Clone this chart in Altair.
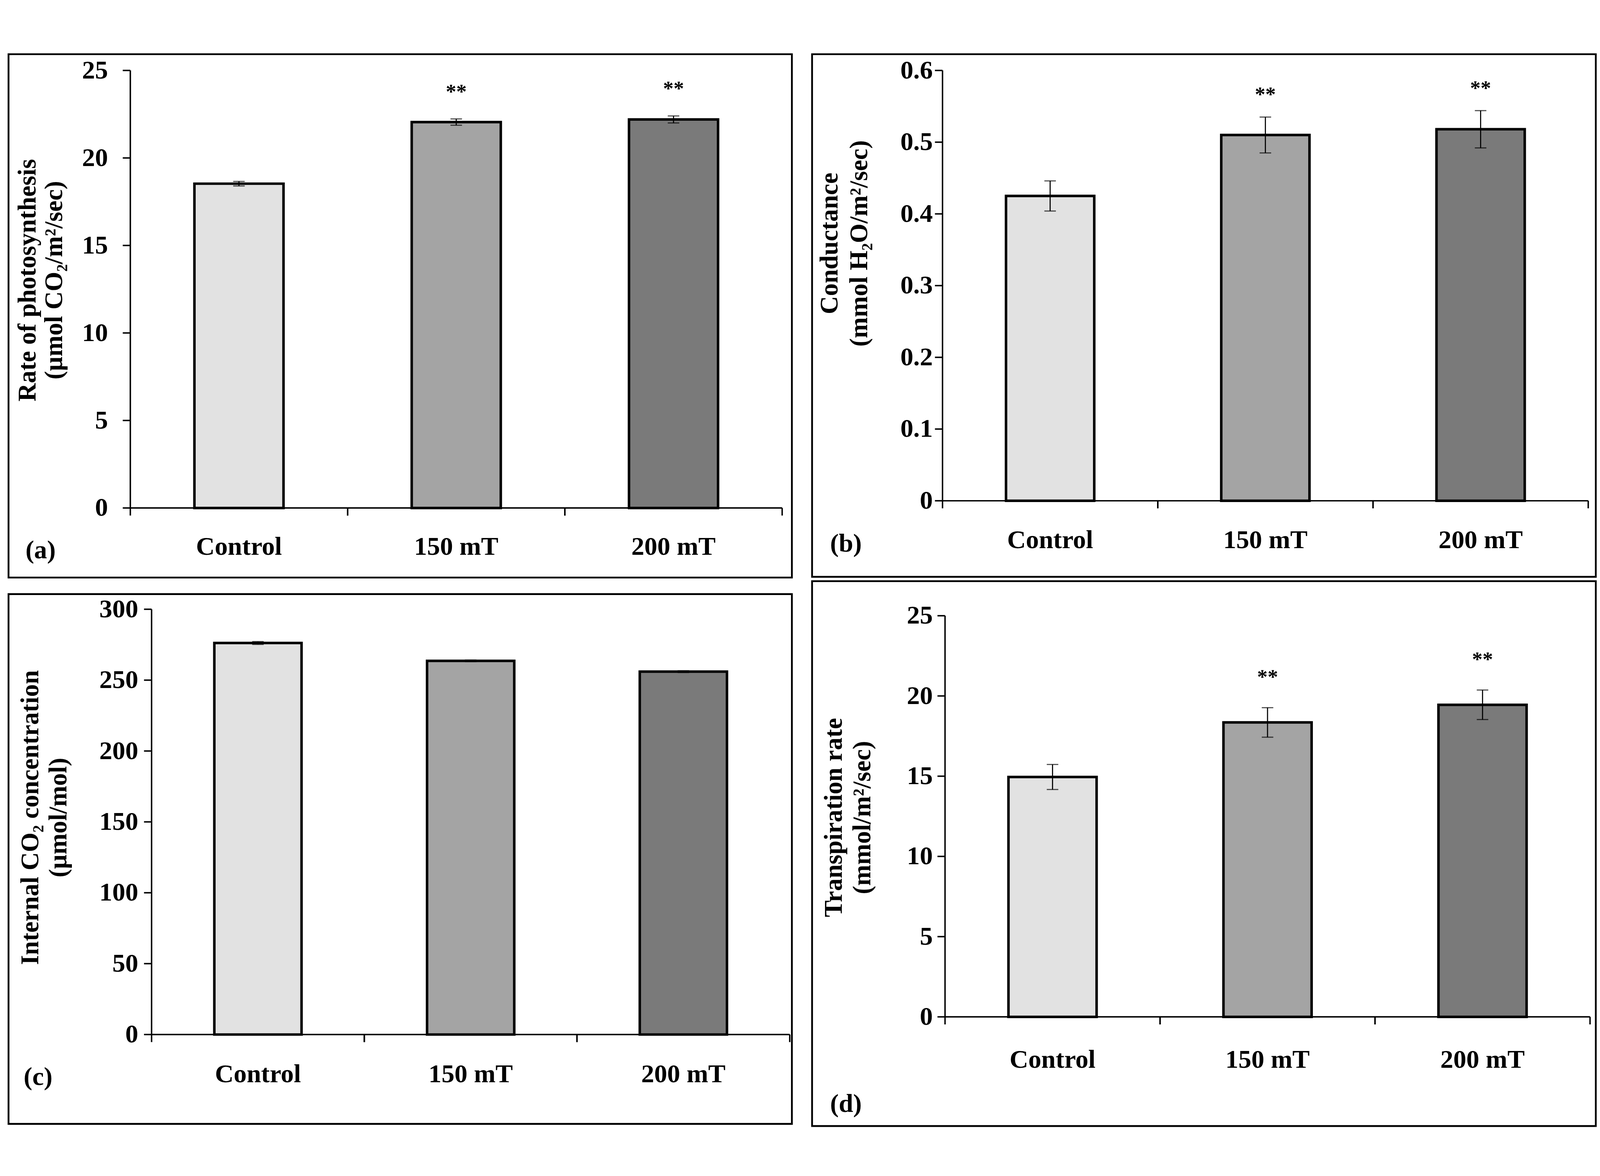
import altair as alt
import pandas as pd

categories = ["Control", "150 mT", "200 mT"]
bar_fills = ["#e2e2e2", "#a4a4a4", "#7a7a7a"]

photo_mean = [18.53, 22.05, 22.2]
photo_err = [0.13, 0.18, 0.2]
photo_sig = ["", "**", "**"]
photo_ticks = [0, 5, 10, 15, 20, 25]
photo_labels = ["0", "5", "10", "15", "20", "25"]

cond_mean = [0.425, 0.510, 0.518]
cond_err = [0.021, 0.025, 0.026]
cond_sig = ["", "**", "**"]
cond_ticks = [0, 0.1, 0.2, 0.3, 0.4, 0.5, 0.6]
cond_labels = ["0", "0.1", "0.2", "0.3", "0.4", "0.5", "0.6"]

ci_mean = [276.2, 263.6, 256.0]
ci_err = [1.0, 0.6, 0.6]
ci_sig = ["", "", ""]
ci_ticks = [0, 50, 100, 150, 200, 250, 300]
ci_labels = ["0", "50", "100", "150", "200", "250", "300"]

trans_mean = [14.95, 18.35, 19.45]
trans_err = [0.78, 0.92, 0.92]
trans_sig = ["", "**", "**"]
trans_ticks = [0, 5, 10, 15, 20, 25]
trans_labels = ["0", "5", "10", "15", "20", "25"]

FONT = "Liberation Serif"


def panel(mean, err, sig, ticks, tick_labels, title, letter, g):
    df = pd.DataFrame({
        "cat": categories,
        "v": mean,
        "lo": [m - e for m, e in zip(mean, err)],
        "hi": [m + e for m, e in zip(mean, err)],
        "sig": sig,
        "fill": bar_fills,
    })
    tdf = pd.DataFrame({"tv": ticks, "tl": tick_labels})
    one = alt.Chart(pd.DataFrame({"t": [letter], "dmin": [ticks[0]],
                                  "dmax": [ticks[-1]]}))
    xs = alt.Scale(domain=categories, range=[g["x0"], g["x1"]],
                   paddingInner=0, paddingOuter=0)
    ys = alt.Scale(domain=[ticks[0], ticks[-1]], range=[g["y0"], g["yt"]],
                   nice=False, zero=True)

    def X(bp=None):
        if bp is None:
            return alt.X("cat:N", sort=categories, scale=xs, axis=None)
        return alt.X("cat:N", sort=categories, scale=xs, axis=None,
                     bandPosition=bp)

    def Y(f):
        return alt.Y(f + ":Q", scale=ys, axis=None)

    base = alt.Chart(df)
    tk = alt.Chart(tdf)
    txt = dict(font=FONT, fontWeight="bold", color="black")

    # axes drawn from the scales
    yline = one.mark_rule(color="black", strokeWidth=4).encode(
        x=alt.value(g["x0"]), y=Y("dmin"), y2="dmax:Q")
    xline = one.mark_rule(color="black", strokeWidth=4).encode(
        y=Y("dmin"), x=alt.value(g["x0"]), x2=alt.value(g["x1"]))
    yticks = tk.mark_rule(color="black", strokeWidth=4).encode(
        y=Y("tv"), x=alt.value(g["x0"] - 21), x2=alt.value(g["x0"]))
    ylabels = tk.mark_text(align="right", baseline="middle", fontSize=72,
                           **txt).encode(
        y=Y("tv"), x=alt.value(g["x0"] - 21 - g["lpy"]), text="tl:N")
    xticks0 = base.mark_rule(color="black", strokeWidth=4).encode(
        x=X(0), y=alt.value(g["y0"]), y2=alt.value(g["y0"] + 21))
    xticks1 = base.mark_rule(color="black", strokeWidth=4).encode(
        x=X(1), y=alt.value(g["y0"]), y2=alt.value(g["y0"] + 21))
    xlabels = base.mark_text(align="center", baseline="middle", fontSize=72,
                             **txt).encode(
        x=X(), y=alt.value(g["xly"]), text="cat:N")

    bars = base.mark_bar(width=alt.RelativeBandSize(0.41), stroke="black",
                         strokeWidth=7).encode(
        x=X(), y=Y("v"), fill=alt.Fill("fill:N", scale=None))
    rule = base.mark_rule(color="black", strokeWidth=3).encode(
        x=X(), y=Y("lo"), y2="hi:Q")
    cap_lo = base.mark_tick(color="black", thickness=3, size=32).encode(
        x=X(), y=Y("lo"))
    cap_hi = base.mark_tick(color="black", thickness=3, size=32).encode(
        x=X(), y=Y("hi"))
    stars = base.mark_text(fontSize=58, baseline="alphabetic",
                           dy=g["sdy"], **txt).encode(
        x=X(), y=Y("hi"), text="sig:N")
    lab = one.mark_text(fontSize=72, align="left", baseline="middle",
                        **txt).encode(
        x=alt.value(g["lx"]), y=alt.value(g["ly"]), text="t:N")
    ttl = one.mark_text(fontSize=70, align="center", baseline="middle",
                        angle=270, lineHeight=g["tlh"], **txt).encode(
        x=alt.value(g["tx"]), y=alt.value(g["ty"]), text=alt.value(title))
    return alt.layer(yline, xline, yticks, ylabels, xticks0, xticks1,
                     xlabels, bars, rule, cap_lo, cap_hi, stars, lab,
                     ttl).properties(width=g["W"], height=g["H"])


ga = dict(W=2174, H=1452, x0=338, x1=2147, y0=1259, yt=45, lpy=41,
          xly=1367, tx=54, ty=627, tlh=74, sdy=-57, lx=47, ly=1377)
gb = dict(W=2175, H=1450, x0=362, x1=2154, y0=1239, yt=45, lpy=6,
          xly=1348, tx=50, ty=525, tlh=82, sdy=-44, lx=50, ly=1358)
gc = dict(W=2174, H=1470, x0=397, x1=2168, y0=1222, yt=42, lpy=16,
          xly=1332, tx=62, ty=620, tlh=78, sdy=-30, lx=42, ly=1340)
gd = dict(W=2175, H=1512, x0=369, x1=2159, y0=1209, yt=96, lpy=13,
          xly=1328, tx=61, ty=656, tlh=80, sdy=-66, lx=50, ly=1451)

pa = panel(photo_mean, photo_err, photo_sig, photo_ticks, photo_labels,
           ["Rate of photosynthesis", "(\u00b5mol CO\u2082/m\u00b2/sec)"], "(a)", ga)
pb = panel(cond_mean, cond_err, cond_sig, cond_ticks, cond_labels,
           ["Conductance", "(mmol H\u2082O/m\u00b2/sec)"], "(b)", gb)
pc = panel(ci_mean, ci_err, ci_sig, ci_ticks, ci_labels,
           ["Internal CO\u2082 concentration", "(\u00b5mol/mol)"], "(c)", gc)
pd_ = panel(trans_mean, trans_err, trans_sig, trans_ticks, trans_labels,
            ["Transpiration rate", "(mmol/m\u00b2/sec)"], "(d)", gd)

left = alt.vconcat(pa, pc, spacing=40)
right = alt.vconcat(pb, pd_, spacing=6)
chart = alt.hconcat(left, right, spacing=50).properties(
    padding={"left": 12, "top": 13, "right": 0, "bottom": 0},
    background="white",
).configure_view(stroke="black", strokeWidth=5)

chart.save("out.html", embed_options={"renderer": "svg", "actions": False})
